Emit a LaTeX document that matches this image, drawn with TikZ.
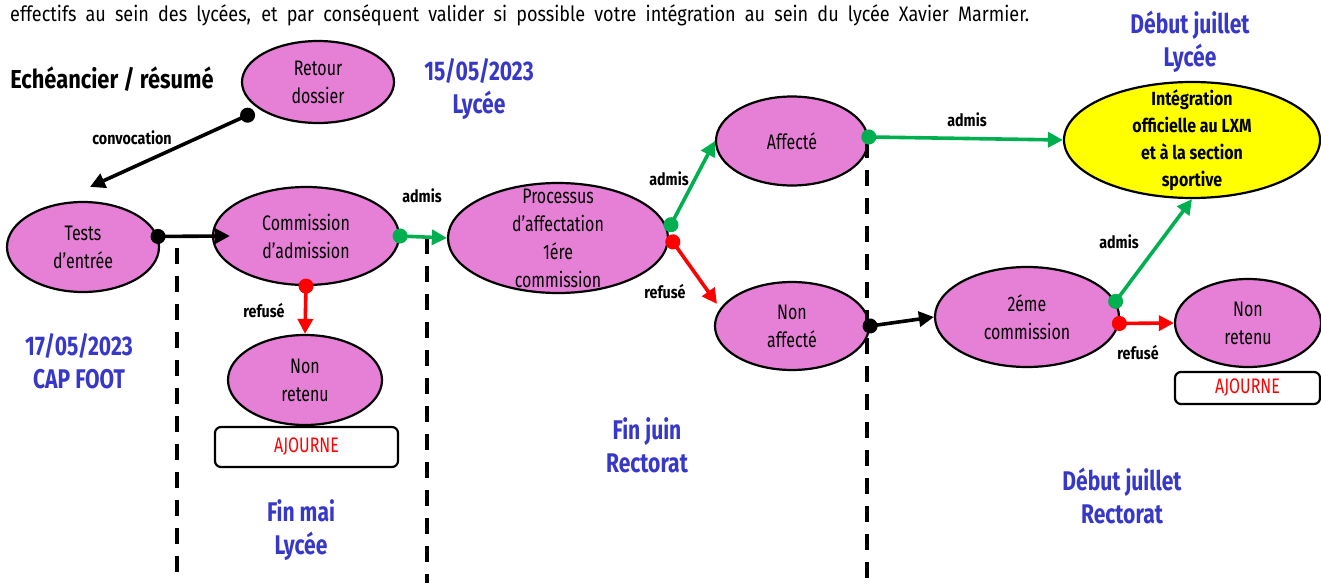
\documentclass[tikz,border=0pt]{standalone}
\usepackage{fontspec}
\setmainfont[FakeStretch=0.76]{Fira Sans}
\newfontfamily\topfont[FakeStretch=0.86]{Fira Sans}
\newfontfamily\bldfont[FakeStretch=0.84]{Fira Sans}
\newfontfamily\bluefont[FakeStretch=0.78]{Fira Sans}
\usetikzlibrary{arrows.meta,shapes.geometric}
\definecolor{pinkc}{RGB}{230,128,214}
\definecolor{greenc}{RGB}{0,176,80}
\definecolor{bluec}{RGB}{55,55,200}
\definecolor{redc}{RGB}{255,0,0}
\definecolor{yellowc}{RGB}{255,255,0}
\tikzset{
  ell/.style={ellipse, draw, line width=2.2pt, fill=pinkc, inner sep=0pt, align=center,
    font=\fontsize{21}{28}\selectfont},
  lbl/.style={font=\bldfont\bfseries\fontsize{17}{19}\selectfont, inner sep=0pt},
  bluetxt/.style={font=\bluefont\bfseries\fontsize{27}{33}\selectfont, text=bluec, align=center, inner sep=0pt},
  ajbox/.style={rectangle, rounded corners=6pt, draw, line width=2.2pt, text=redc,
    font=\fontsize{21}{24}\selectfont, inner sep=0pt},
  conn/.style={line width=3.6pt, {Circle[length=15pt]}-{Triangle[length=15pt,width=15pt]}, shorten <=-7.5pt},
  dashline/.style={line width=3.5pt, dash pattern=on 16pt off 12pt},
}
\begin{document}
\begin{tikzpicture}[x=1pt,y=-1pt]
\useasboundingbox (0,0) rectangle (1321,583);

% top text
\node[anchor=base west, inner sep=0pt, font=\topfont\fontsize{21}{24}\selectfont] (toptext) at (10,22)
  {\makebox[1019pt][s]{effectifs au sein des lycées, et par conséquent valider si possible votre intégration au sein du lycée Xavier Marmier.}};

% title
\node[font=\bldfont\bfseries\fontsize{26}{30}\selectfont, inner sep=0pt] (title) at (112,79) {Echéancier / résumé};

% ellipses
\node[ell, minimum width=152pt, minimum height=82pt] (retour) at (318,82) {Retour\\dossier};
\node[ell, minimum width=152pt, minimum height=90pt] (tests) at (83,247) {Tests\\d’entrée};
\node[ell, minimum width=186pt, minimum height=98pt] (comm) at (306,236) {Commission\\d’admission};
\node[ell, minimum width=154pt, minimum height=90pt] (nonret1) at (305,380) {Non\\retenu};
\node[ell, inner sep=-30pt, minimum width=220pt, minimum height=110pt] (proc) at (558,238) {Processus\\d’affectation\\1ére\\commission};
\node[ell, minimum width=152pt, minimum height=89pt] (affecte) at (792,141) {Affecté};
\node[ell, minimum width=154pt, minimum height=88pt] (nonaff) at (792,326) {Non\\affecté};
\node[ell, minimum width=184pt, minimum height=100pt] (deux) at (1027,317) {2éme\\commission};
\node[ell, minimum width=146pt, minimum height=88pt] (nonret2) at (1248,323) {Non\\retenu};
\node[ell, fill=yellowc, inner sep=-30pt, minimum width=256pt, minimum height=116pt,
  font=\bldfont\bfseries\fontsize{19}{27}\selectfont] (integ) at (1192,140)
  {Intégration\\officielle au LXM\\et à la section\\sportive};

% ajourne boxes
\node[ajbox, minimum width=183pt, minimum height=40pt] (aj1) at (306.5,447) {AJOURNE};
\node[ajbox, minimum width=145pt, minimum height=32pt] (aj2) at (1247.5,388) {AJOURNE};

% dashed separators
\draw[dashline] (177,248) -- (177,583);
\draw[dashline] (427,238) -- (427,583);
\draw[dashline] (867,142) -- (867,583);

% connectors
\draw[conn, black] ([xshift=-23pt]retour.215) -- ([shift={(7pt,14pt)}]tests.north);
\draw[conn, black] (tests.8) -- ([xshift=18pt]comm.west);
\draw[conn, greenc] (comm.east) -- (proc.west);
\draw[conn, redc] (comm.south) -- (nonret1.north);
\draw[conn, greenc] ([xshift=5pt]proc.7) -- (affecte.west);
\draw[conn, redc] ([xshift=4pt]proc.-2) -- ([xshift=-7pt]nonaff.162);
\draw[conn, greenc] (affecte.3) -- (integ.west);
\draw[conn, black] (nonaff.east) -- (deux.west);
\draw[conn, greenc] (deux.10) -- (integ.south);
\draw[conn, redc] (deux.-4) -- (nonret2.west);

% connector labels
\node[lbl] (l1) at (132,138) {convocation};
\node[lbl] (l2) at (422,196) {admis};
\node[lbl] (l3) at (264,311) {refusé};
\node[lbl] (l4) at (669,179) {admis};
\node[lbl] (l5) at (665,292) {refusé};
\node[lbl] (l6) at (967,120) {admis};
\node[lbl] (l7) at (1119,242) {admis};
\node[lbl] (l8) at (1138,353) {refusé};

% blue dates
\node[bluetxt] (d1) at (479,89) {15/05/2023\\Lycée};
\node[bluetxt] (d2) at (79,361) {17/05/2023\\CAP FOOT};
\node[bluetxt] (d3) at (301,530) {Fin mai\\Lycée};
\node[bluetxt] (d4) at (647,445) {Fin juin\\Rectorat};
\node[bluetxt] (d5) at (1190,42) {Début juillet\\Lycée};
\node[bluetxt] (d6) at (1122,496) {Début juillet\\Rectorat};
\end{tikzpicture}
\end{document}
